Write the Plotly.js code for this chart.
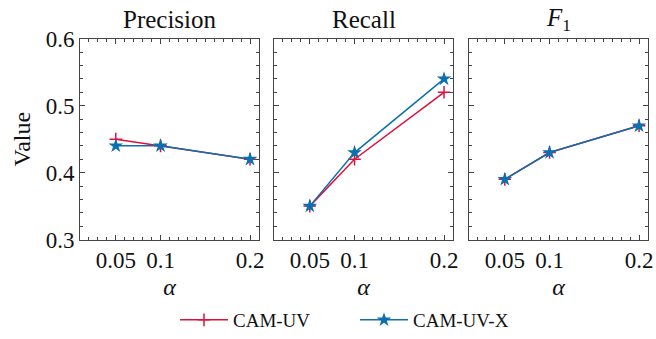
<!DOCTYPE html>
<html><head><meta charset="utf-8">
<script src="https://cdn.plot.ly/plotly-3.0.1.min.js"></script>
</head><body style="margin:0"><div id="chart" style="width:656px;height:339px"></div>
<script>
var alphas = [0.05, 0.1, 0.2];
var panelTitles = ["Precision", "Recall", "<i>F</i><sub>1</sub>"];
var seriesNames = ["CAM-UV", "CAM-UV-X"];
var precisionCamUV = [0.45, 0.44, 0.42];
var precisionCamUVX = [0.44, 0.44, 0.42];
var recallCamUV = [0.35, 0.42, 0.52];
var recallCamUVX = [0.35, 0.43, 0.54];
var f1CamUV = [0.39, 0.43, 0.47];
var f1CamUVX = [0.39, 0.43, 0.47];
var xTickVals = [0.05, 0.1, 0.2];
var xTickText = ["0.05", "0.1", "0.2"];
var yTickVals = [0.3, 0.4, 0.5, 0.6];

var red = "#e0103c", blue = "#0c6fb0";
var FONT = "Liberation Serif";
var uv = [precisionCamUV, recallCamUV, f1CamUV];
var uvx = [precisionCamUVX, recallCamUVX, f1CamUVX];
var traces = [];
for (var i = 0; i < 3; i++) {
  var xa = i === 0 ? "x" : "x" + (i + 1), ya = i === 0 ? "y" : "y" + (i + 1);
  traces.push({x: alphas, y: uv[i], xaxis: xa, yaxis: ya, type: "scatter", mode: "lines+markers",
    name: seriesNames[0], legendgroup: "a", showlegend: i === 0,
    line: {color: red, width: 1.5},
    marker: {symbol: "cross-thin", size: 9, color: red, line: {color: red, width: 1.5}}});
}
for (var i = 0; i < 3; i++) {
  var xa = i === 0 ? "x" : "x" + (i + 1), ya = i === 0 ? "y" : "y" + (i + 1);
  traces.push({x: alphas, y: uvx[i], xaxis: xa, yaxis: ya, type: "scatter", mode: "lines+markers",
    name: seriesNames[1], legendgroup: "b", showlegend: i === 0,
    line: {color: blue, width: 1.5},
    marker: {symbol: "star", size: 11, color: blue, line: {width: 0}}});
}

var doms = [[80/656, 259/656], [274/656, 453/656], [469/656, 648/656]];
var layout = {
  width: 656, height: 339, margin: {l: 0, r: 0, t: 0, b: 0},
  paper_bgcolor: "#fff", plot_bgcolor: "#fff",
  font: {family: FONT, size: 22, color: "#111"},
  showlegend: true,
  legend: {orientation: "h", x: 175/656, xanchor: "left", y: 1 - 322/339, yanchor: "middle",
    font: {family: FONT, size: 19}, itemwidth: 48, entrywidth: 117, entrywidthmode: "pixels",
    tracegroupgap: 0, bgcolor: "rgba(0,0,0,0)"},
  annotations: []
};
for (var i = 0; i < 3; i++) {
  var s = i === 0 ? "" : String(i + 1);
  layout["xaxis" + s] = {domain: doms[i], range: [0.01, 0.21], anchor: "y" + s,
    tickmode: "array", tickvals: xTickVals, ticktext: xTickText,
    ticks: "inside", ticklen: 5, tickwidth: 1, tickcolor: "#444",
    showline: true, linecolor: "#444", linewidth: 1, mirror: "allticks",
    showgrid: false, zeroline: false,
    tickfont: {family: FONT, size: 23},
    minor: {dtick: 0.01, tick0: 0, ticks: "inside", ticklen: 3, tickcolor: "#444", tickwidth: 1, showgrid: false},
    title: {text: "<i>α</i>", font: {family: FONT, size: 24}, standoff: 6}};
  layout["yaxis" + s] = {domain: [1 - 241/339, 1 - 39/339], range: [0.3, 0.6], anchor: "x" + s,
    tickmode: "array", tickvals: yTickVals, showticklabels: i === 0,
    ticks: "inside", ticklen: 5, tickwidth: 1, tickcolor: "#444",
    showline: true, linecolor: "#444", linewidth: 1, mirror: "allticks",
    showgrid: false, zeroline: false,
    tickfont: {family: FONT, size: 23},
    minor: {dtick: 0.02, tick0: 0.3, ticks: "inside", ticklen: 3, tickcolor: "#444", tickwidth: 1, showgrid: false}};
  if (i === 0) layout["yaxis" + s].title = {text: "Value", font: {family: FONT, size: 24}, standoff: 8};
  layout.annotations.push({text: panelTitles[i], xref: "paper", yref: "paper",
    x: (doms[i][0] + doms[i][1]) / 2, y: 1 - 20/339, xanchor: "center", yanchor: "middle",
    showarrow: false, font: {family: FONT, size: 25}});
}
Plotly.newPlot("chart", traces, layout, {displayModeBar: false});
</script></body></html>
